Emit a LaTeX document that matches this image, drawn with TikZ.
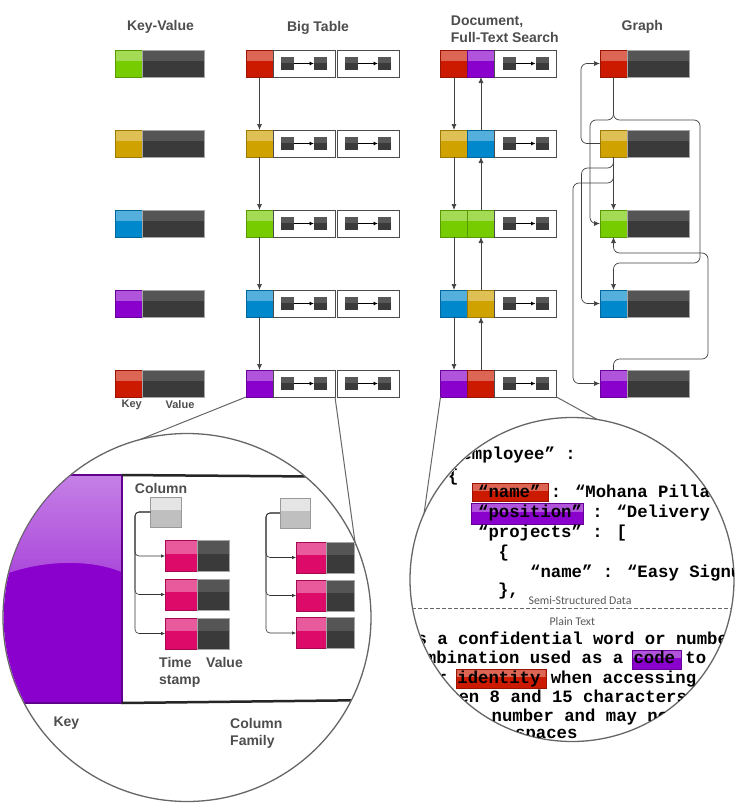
\documentclass[tikz,border=0pt]{standalone}
\usepackage{fontspec}
\setmainfont{Liberation Sans}
\newfontfamily\codefont{Liberation Mono}
\newfontfamily\calfont{Carlito}
\usetikzlibrary{arrows.meta,positioning,calc}
\definecolor{kred}{HTML}{CC1A00}
\definecolor{kgold}{HTML}{D0A200}
\definecolor{kgreen}{HTML}{77CC00}
\definecolor{kblue}{HTML}{0088CC}
\definecolor{kpurple}{HTML}{8A00CC}
\definecolor{kpink}{HTML}{DD0A6A}
\definecolor{kdark}{HTML}{3A3A3A}
\definecolor{txtgrey}{HTML}{4D4D4D}

\begin{document}
\begin{tikzpicture}[x=1pt,y=-1pt,
 gloss/.style={path picture={\fill[white,opacity=#1] ($(path picture bounding box.north west)!.42!(path picture bounding box.south west)$) rectangle (path picture bounding box.north east);}},
 gloss/.default=.33,
 keysq/.style={draw=#1!75!black,fill=#1,minimum width=27pt,minimum height=27pt,inner sep=0pt,outer sep=0pt,gloss},
 valbar/.style={draw=gray!70,fill=kdark,minimum width=62pt,minimum height=27pt,inner sep=0pt,outer sep=0pt,gloss=.14},
 cellbox/.style={draw=black!70,fill=white,minimum width=62pt,minimum height=27pt,inner sep=0pt,outer sep=0pt,
  path picture={
   \fill[kdark] ([shift={(-23pt,-6.5pt)}]path picture bounding box.center) rectangle ++(13pt,13pt);
   \fill[kdark] ([shift={(10pt,-6.5pt)}]path picture bounding box.center) rectangle ++(13pt,13pt);
   \fill[white,opacity=.15] ([shift={(-23pt,1pt)}]path picture bounding box.center) rectangle ++(13pt,5.5pt);
   \fill[white,opacity=.15] ([shift={(10pt,1pt)}]path picture bounding box.center) rectangle ++(13pt,5.5pt);
   \draw[black,line width=.8pt,-{Latex[length=4.5pt,width=4pt]}] ([xshift=-10pt]path picture bounding box.center) -- ([xshift=10pt]path picture bounding box.center);}},
 colhead/.style={font=\bfseries\fontsize{14}{16.5}\selectfont,text=txtgrey,inner sep=0pt,align=left},
 lbl/.style={font=\bfseries\fontsize{11}{13}\selectfont,text=txtgrey,inner sep=0pt},
 arr/.style={-{Latex[length=6pt,width=5pt]},draw=black!75,line width=.7pt},
 garr/.style={arr,rounded corners=6pt},
 lens/.style={circle,draw=black!60,line width=1.3pt,fill=white,inner sep=0pt,outer sep=0pt},
 zoomln/.style={draw=black!60,line width=1pt},
 pinkbox/.style={keysq=kpink,minimum width=32pt,minimum height=31pt},
 darkbox/.style={valbar,minimum width=32pt,minimum height=31pt},
 colsq/.style={draw=gray!80,fill=gray!50,gloss=.6,minimum width=31pt,minimum height=30pt,inner sep=0pt},
 tarr/.style={-{Latex[length=4pt,width=3.5pt]},draw=black!80,line width=.6pt,rounded corners=4pt},
 jsonln/.style={font=\codefont\bfseries\fontsize{17.3}{20}\selectfont,anchor=base west,inner sep=0pt},
 tinylbl/.style={font=\calfont\fontsize{11.8}{13}\selectfont,text=black!65,inner sep=0pt}]
\useasboundingbox (0,0) rectangle (741,811);
% column titles
\node[colhead,anchor=north] (hkv) at (160.5,20) {Key-Value};
\node[colhead,anchor=north] (hbt) at (318,20.7) {Big Table};
\node[colhead,anchor=north west] (hdoc) at (450.7,16) {Document,\\Full-Text Search};
\node[colhead,anchor=north] (hgr) at (642.3,20) {Graph};
% key-value
\node[keysq=kgreen] (kvk1) at (129,63.5) {}; \node[valbar,right=0pt of kvk1] (kvv1) {};
\node[keysq=kgold] (kvk2) at (129,143.5) {}; \node[valbar,right=0pt of kvk2] (kvv2) {};
\node[keysq=kblue] (kvk3) at (129,223.5) {}; \node[valbar,right=0pt of kvk3] (kvv3) {};
\node[keysq=kpurple] (kvk4) at (129,303.5) {}; \node[valbar,right=0pt of kvk4] (kvv4) {};
\node[keysq=kred] (kvk5) at (129,383.5) {}; \node[valbar,right=0pt of kvk5] (kvv5) {};
\node[lbl,anchor=north] (kvkey) at (131.7,400) {Key};
\node[lbl,anchor=north] (kvval) at (180,400) {Value};
% big table
\node[keysq=kred] (btk1) at (259.5,63.5) {}; \node[cellbox,right=0pt of btk1] (btc1) {}; \node[cellbox,right=2pt of btc1] (btd1) {};
\node[keysq=kgold] (btk2) at (259.5,143.5) {}; \node[cellbox,right=0pt of btk2] (btc2) {}; \node[cellbox,right=2pt of btc2] (btd2) {};
\node[keysq=kgreen] (btk3) at (259.5,223.5) {}; \node[cellbox,right=0pt of btk3] (btc3) {}; \node[cellbox,right=2pt of btc3] (btd3) {};
\node[keysq=kblue] (btk4) at (259.5,303.5) {}; \node[cellbox,right=0pt of btk4] (btc4) {}; \node[cellbox,right=2pt of btc4] (btd4) {};
\node[keysq=kpurple] (btk5) at (259.5,383.5) {}; \node[cellbox,right=0pt of btk5] (btc5) {}; \node[cellbox,right=2pt of btc5] (btd5) {};
\draw[arr] (btk1)--(btk2); \draw[arr] (btk2)--(btk3); \draw[arr] (btk3)--(btk4); \draw[arr] (btk4)--(btk5);
% document
\node[keysq=kred] (dck1) at (454,63.5) {}; \node[keysq=kpurple,right=0pt of dck1] (dcs1) {}; \node[cellbox,right=0pt of dcs1] (dcc1) {};
\node[keysq=kgold] (dck2) at (454,143.5) {}; \node[keysq=kblue,right=0pt of dck2] (dcs2) {}; \node[cellbox,right=0pt of dcs2] (dcc2) {};
\node[keysq=kgreen] (dck3) at (454,223.5) {}; \node[keysq=kgreen,right=0pt of dck3] (dcs3) {}; \node[cellbox,right=0pt of dcs3] (dcc3) {};
\node[keysq=kblue] (dck4) at (454,303.5) {}; \node[keysq=kgold,right=0pt of dck4] (dcs4) {}; \node[cellbox,right=0pt of dcs4] (dcc4) {};
\node[keysq=kpurple] (dck5) at (454,383.5) {}; \node[keysq=kred,right=0pt of dck5] (dcs5) {}; \node[cellbox,right=0pt of dcs5] (dcc5) {};
\draw[arr] (dck1)--(dck2); \draw[arr] (dck2)--(dck3); \draw[arr] (dck3)--(dck4); \draw[arr] (dck4)--(dck5);
\draw[arr] (dcs2)--(dcs1); \draw[arr] (dcs3)--(dcs2); \draw[arr] (dcs4)--(dcs3); \draw[arr] (dcs5)--(dcs4);
% graph
\node[keysq=kred] (gk1) at (613.5,63.5) {}; \node[valbar,right=0pt of gk1] (gv1) {};
\node[keysq=kgold] (gk2) at (613.5,143.5) {}; \node[valbar,right=0pt of gk2] (gv2) {};
\node[keysq=kgreen] (gk3) at (613.5,223.5) {}; \node[valbar,right=0pt of gk3] (gv3) {};
\node[keysq=kblue] (gk4) at (613.5,303.5) {}; \node[valbar,right=0pt of gk4] (gv4) {};
\node[keysq=kpurple] (gk5) at (613.5,383.5) {}; \node[valbar,right=0pt of gk5] (gv5) {};
\draw[garr] (gk2.west) -- ++(-19,0) |- (gk1.west);
\draw[garr] (gk1.south) |- (590,120) |- (gk3.west);
\draw[garr] (gk1.south) |- (700,120) |- (613.5,263) -- (gk4.north);
\draw[arr] (gk2)--(gk3);
\draw[garr] (gk2.south) |- (581.5,168) |- (gk4.west);
\draw[garr] (gk2.south) |- (573,183) |- (gk5.west);
\draw[garr] (gk5.north) |- (708,359) |- (613.5,253) -- (gk3.south);
% magnifiers
\node[lens,minimum size=368pt] (lensL) at (187,617.5) {};
\node[lens,minimum size=324pt] (lensR) at (572,579.5) {};
\draw[zoomln] (btk5.south west) -- (lensL.105);
\draw[zoomln] (btc5.south east) -- (lensL.24);
\draw[zoomln] (dck5.south west) -- (lensR.156);
\draw[zoomln] (dcc5.south east) -- (lensR.81);
% big table row, close up
\begin{scope}
\clip (lensL.center) circle[radius=183.3pt];
\fill[kpurple] (-5,475) rectangle (121.7,703);
\shade[top color=kpurple!50!white,bottom color=kpurple!72!white] (-5,475) -- (121.7,475) -- (121.7,572) .. controls (90,559) and (40,559) .. (-5,578) -- cycle;
\draw[kpurple!70!black,line width=2pt] (-5,475) -- (121.7,475) -- (121.7,703) -- (-5,703);
\draw[black!85,line width=2.5pt] (121.7,475) -- (380,477);
\draw[black!85,line width=2.5pt] (121.7,703) -- (380,700);
\node[colsq] (cg1) at (166,512) {};
\node[pinkbox] (ts11) at (181,556) {}; \node[darkbox,right=0pt of ts11] (tv11) {};
\node[pinkbox] (ts12) at (181,594.5) {}; \node[darkbox,right=0pt of ts12] (tv12) {};
\node[pinkbox] (ts13) at (181,633.5) {}; \node[darkbox,right=0pt of ts13] (tv13) {};
\draw[tarr] (cg1.west) -| (135,556) -- (ts11.west);
\draw[tarr] (cg1.west) -| (135,594.5) -- (ts12.west);
\draw[tarr] (cg1.west) -| (135,633.5) -- (ts13.west);
\node[colsq,minimum width=30pt] (cg2) at (295,513) {};
\node[pinkbox,minimum width=30pt] (ts21) at (311,557.5) {}; \node[darkbox,minimum width=28pt,right=0pt of ts21] (tv21) {};
\node[pinkbox,minimum width=30pt] (ts22) at (311,595.5) {}; \node[darkbox,minimum width=28pt,right=0pt of ts22] (tv22) {};
\node[pinkbox,minimum width=30pt] (ts23) at (311,633) {}; \node[darkbox,minimum width=28pt,right=0pt of ts23] (tv23) {};
\draw[tarr] (cg2.west) -| (266,557.5) -- (ts21.west);
\draw[tarr] (cg2.west) -| (266,595.5) -- (ts22.west);
\draw[tarr] (cg2.west) -| (266,633) -- (ts23.west);
\node[colhead,anchor=north] (lcol) at (161,483.3) {Column};
\node[colhead,anchor=north west] (lts) at (159,657.3) {Time\\stamp};
\node[colhead,anchor=north west] (lval) at (206,657.3) {Value};
\node[colhead,anchor=north west] (lkey) at (53.3,716.5) {Key};
\node[colhead,anchor=north west] (lcf) at (230,718.3) {Column\\Family};
\end{scope}
% document, close up
\begin{scope}
\clip (lensR.center) circle[radius=161.3pt];
\node[keysq=kred,minimum width=76pt,minimum height=18pt] (hlname) at (510,492) {};
\node[keysq=kpurple,minimum width=112pt,minimum height=21pt] (hlpos) at (527,513.5) {};
\node[keysq=kpurple,minimum width=49pt,minimum height=19pt] (hlcode) at (656.5,659.5) {};
\node[keysq=kred,minimum width=90pt,minimum height=19pt] (hlid) at (500.7,678.5) {};
\node[jsonln] (js1) at (451,459.6) {“employee” :};
\node[jsonln] (js2) at (447.8,481) {\{};
\node[jsonln] (js3) at (478,497.6) {“name” : “Mohana Pillai};
\node[jsonln] (js4) at (478,517.3) {“position” : “Delivery Manager};
\node[jsonln] (js5) at (478,537.3) {“projects” : [};
\node[jsonln] (js6) at (498.5,557) {\{};
\node[jsonln] (js7) at (530,577.3) {“name” : “Easy Signup};
\node[jsonln] (js8) at (497.8,595) {\},};
\node[tinylbl] (semi) at (580,600.7) {Semi-Structured Data};
\draw[black!60,line width=1pt,dash pattern=on 4pt off 2pt] (400,608.3) -- (750,608.3);
\node[tinylbl] (plain) at (572.3,621.3) {Plain Text};
\node[jsonln] (pt1) at (406,644.6) {is a confidential word or number};
\node[jsonln] (pt2) at (405,663.9) {combination used as a code to};
\node[jsonln] (pt3) at (405.3,683.9) {your identity when accessing};
\node[jsonln] (pt4) at (406.5,702.3) {between 8 and 15 characters};
\node[jsonln] (pt5) at (491.5,721.3) {number and may not};
\node[jsonln] (pt6) at (515,738.5) {spaces};
\end{scope}
\end{tikzpicture}
\end{document}
